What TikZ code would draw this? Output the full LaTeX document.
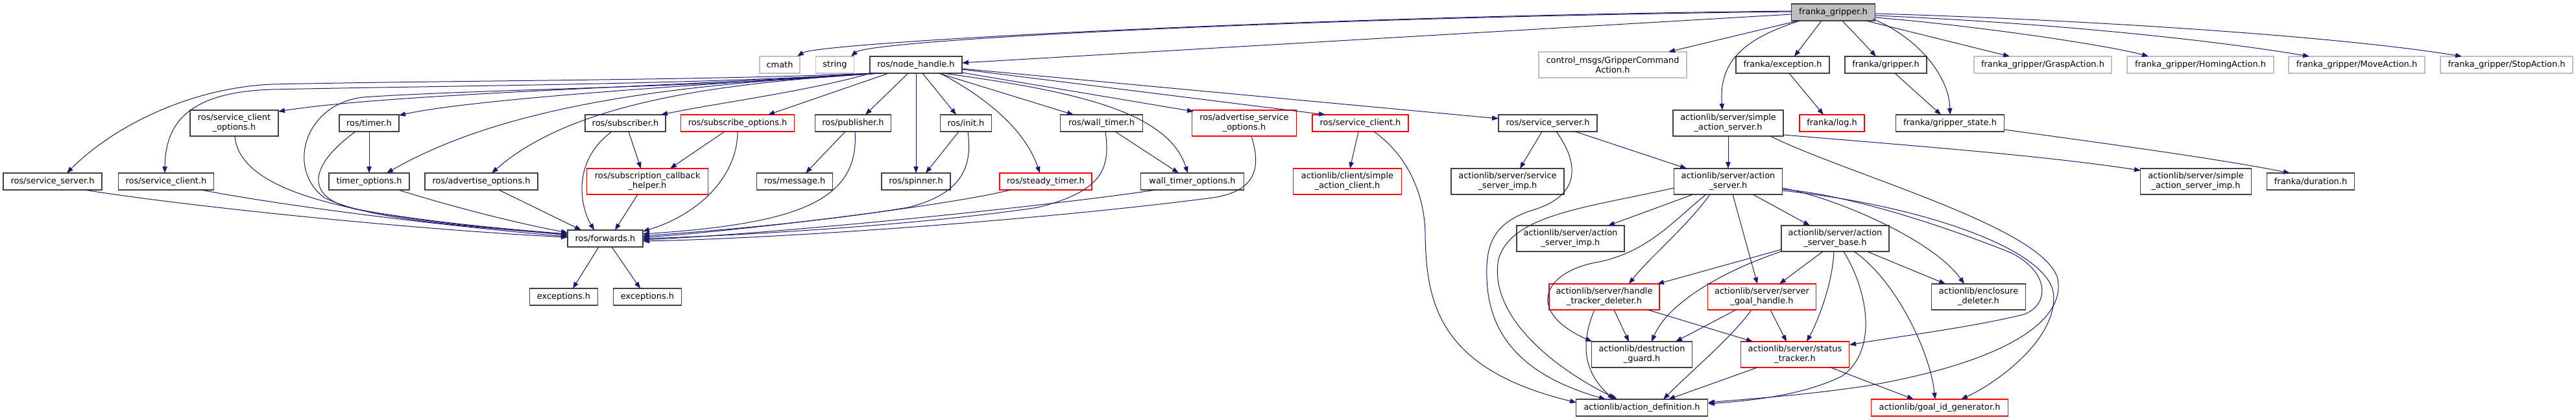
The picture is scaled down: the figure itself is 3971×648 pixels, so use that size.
\documentclass[tikz,border=0pt]{standalone}
\usepackage{fontspec}
\setmainfont{DejaVu Sans}
\usetikzlibrary{arrows.meta,calc}
\definecolor{edgec}{HTML}{191970}
\definecolor{nodeb}{HTML}{404040}
\definecolor{grayb}{HTML}{BFBFBF}
\definecolor{redb}{HTML}{FF0000}
\tikzset{
  box/.style={draw=nodeb, line width=1pt, fill=white, inner sep=0pt, align=center, font=\fontsize{9.7}{11.25}\selectfont},
  rbox/.style={box, draw=redb},
  gbox/.style={box, draw=grayb},
  wh/.style 2 args={minimum width={#1*0.75pt}, minimum height={#2*0.75pt}},
  lnk/.style={draw=edgec, line width=0.75pt, -{Triangle[length=7.5pt,width=5.5pt]}},
}
\begin{document}
\begin{tikzpicture}[x=0.75pt,y=-0.75pt]
\fill[white] (0,0) rectangle (3971,648);
\useasboundingbox (0,0) rectangle (3971,648);
% row 0
\node[box, wh={129}{26}, fill=grayb] (fg) at (2826,19) {franka\_gripper.h};
% row 1
\node[gbox, wh={62}{26}] (cmath) at (1202,100) {cmath};
\node[gbox, wh={59}{26}] (string) at (1287,100) {string};
\node[box, wh={142}{26}] (nh) at (1412,100) {ros/node\_handle.h};
\node[gbox, wh={228}{40}] (gca) at (2486,100) {control\_msgs/GripperCommand\\Action.h};
\node[box, wh={144}{26}] (fex) at (2748,100) {franka/exception.h};
\node[box, wh={126}{26}] (fgr) at (2907,100) {franka/gripper.h};
\node[gbox, wh={212}{26}] (grasp) at (3149,100) {franka\_gripper/GraspAction.h};
\node[gbox, wh={226}{26}] (homing) at (3392,100) {franka\_gripper/HomingAction.h};
\node[gbox, wh={210}{26}] (move) at (3633,100) {franka\_gripper/MoveAction.h};
\node[gbox, wh={204}{26}] (stop) at (3864,100) {franka\_gripper/StopAction.h};
% row 2
\node[box, wh={136}{40}] (sco) at (361,190) {ros/service\_client\\\_options.h};
\node[box, wh={92}{26}] (timer) at (569,190) {ros/timer.h};
\node[box, wh={124}{26}] (sub) at (964,190) {ros/subscriber.h};
\node[rbox, wh={175}{26}] (subo) at (1137,190) {ros/subscribe\_options.h};
\node[box, wh={117}{26}] (pub) at (1315,190) {ros/publisher.h};
\node[box, wh={79}{26}] (init) at (1489,190) {ros/init.h};
\node[box, wh={127}{26}] (wt) at (1698,190) {ros/wall\_timer.h};
\node[rbox, wh={161}{40}] (aso) at (1918,190) {ros/advertise\_service\\\_options.h};
\node[rbox, wh={148}{26}] (scR) at (2097,190) {ros/service\_client.h};
\node[box, wh={152}{26}] (ssR) at (2386,190) {ros/service\_server.h};
\node[box, wh={170}{40}] (sas) at (2664,190) {actionlib/server/simple\\\_action\_server.h};
\node[rbox, wh={100}{26}] (flog) at (2824,190) {franka/log.h};
\node[box, wh={167}{26}] (fgs) at (3006,190) {franka/gripper\_state.h};
% row 3
\node[box, wh={152}{26}] (ssL) at (81,280) {ros/service\_server.h};
\node[box, wh={147}{26}] (scL) at (256,280) {ros/service\_client.h};
\node[box, wh={124}{26}] (tio) at (569,280) {timer\_options.h};
\node[box, wh={174}{26}] (ado) at (742,280) {ros/advertise\_options.h};
\node[rbox, wh={187}{40}] (sch) at (998,280) {ros/subscription\_callback\\\_helper.h};
\node[box, wh={117}{26}] (msg) at (1225,280) {ros/message.h};
\node[box, wh={106}{26}] (spin) at (1412,280) {ros/spinner.h};
\node[rbox, wh={142}{26}] (st) at (1612,280) {ros/steady\_timer.h};
\node[box, wh={159}{26}] (wto) at (1838,280) {wall\_timer\_options.h};
\node[rbox, wh={167}{40}] (sac) at (2077,280) {actionlib/client/simple\\\_action\_client.h};
\node[box, wh={174}{40}] (ssi) at (2324,280) {actionlib/server/service\\\_server\_imp.h};
\node[box, wh={167}{40}] (as) at (2664,280) {actionlib/server/action\\\_server.h};
\node[box, wh={171}{40}] (sasi) at (3385,280) {actionlib/server/simple\\\_action\_server\_imp.h};
\node[box, wh={135}{26}] (fdur) at (3562,280) {franka/duration.h};
% row 4
\node[box, wh={116}{26}] (fwd) at (933,368) {ros/forwards.h};
\node[box, wh={166}{40}] (asi) at (2421,368) {actionlib/server/action\\\_server\_imp.h};
\node[box, wh={166}{40}] (asb) at (2829,368) {actionlib/server/action\\\_server\_base.h};
% row 5
\node[box, wh={105}{26}] (ex1) at (869,458) {exceptions.h};
\node[box, wh={105}{26}] (ex2) at (998,458) {exceptions.h};
\node[rbox, wh={170}{40}] (htd) at (2473,458) {actionlib/server/handle\\\_tracker\_deleter.h};
\node[rbox, wh={167}{40}] (sgh) at (2716,458) {actionlib/server/server\\\_goal\_handle.h};
\node[box, wh={145}{40}] (ed) at (3050,458) {actionlib/enclosure\\\_deleter.h};
% row 6
\node[box, wh={155}{40}] (dg) at (2531,547) {actionlib/destruction\\\_guard.h};
\node[rbox, wh={167}{40}] (stt) at (2767,547) {actionlib/server/status\\\_tracker.h};
% row 7
\node[box, wh={203}{26}] (ad) at (2531,629) {actionlib/action\_definition.h};
\node[rbox, wh={211}{26}] (gid) at (2990,629) {actionlib/goal\_id\_generator.h};

% ---- edges from franka_gripper.h
\draw[lnk] ($(fg)+(-64,-2)$) .. controls (2000,25) and (1260,66) .. ($(cmath)+(27,-13)$);
\draw[lnk] ($(fg)+(-64,-1)$) .. controls (2000,27) and (1340,62) .. ($(string)+(25,-13)$);
\draw[lnk] ($(fg)+(-64,3)$) -- ($(nh)+(71,-3)$);
\draw[lnk] ($(fg)+(-54,13)$) -- ($(gca)+(86,-20)$);
\draw[lnk] ($(fg)+(-51,13)$) .. controls (2680,62) and (2650,100) .. ($(sas)+(-9,-20)$);
\draw[lnk] ($(fg)+(-18,13)$) -- ($(fex)+(18,-13)$);
\draw[lnk] ($(fg)+(14,13)$) -- ($(fgr)+(-15,-13)$);
\draw[lnk] ($(fg)+(61,10)$) .. controls (2960,60) and (3005,120) .. ($(fgs)+(0,-13)$);
\draw[lnk] ($(fg)+(50,13)$) -- ($(grasp)+(-51,-13)$);
\draw[lnk] ($(fg)+(65,8)$) .. controls (3050,40) and (3250,70) .. ($(homing)+(-80,-13)$);
\draw[lnk] ($(fg)+(65,5)$) .. controls (3150,35) and (3400,60) .. ($(move)+(-73,-13)$);
\draw[lnk] ($(fg)+(65,2)$) .. controls (3200,30) and (3600,55) .. ($(stop)+(-69,-13)$);

% ---- edges from ros/node_handle.h
\draw[lnk] ($(nh)+(-69,13)$) .. controls (1100,124) and (700,124) .. (420,130) .. controls (300,135) and (180,190) .. ($(ssL)+(22,-13)$);
\draw[lnk] ($(nh)+(-66,13)$) .. controls (1100,130) and (700,132) .. (420,138) .. controls (290,142) and (255,190) .. ($(scL)+(-2,-13)$);
\draw[lnk] ($(nh)+(-63,13)$) .. controls (1100,135) and (750,137) .. (560,150) .. controls (470,160) and (440,260) .. (500,305) .. controls (580,345) and (780,352) .. ($(fwd)+(-58,-5)$);
\draw[lnk] ($(nh)+(-60,13)$) .. controls (1000,135) and (600,145) .. ($(sco)+(68,-18)$);
\draw[lnk] ($(nh)+(-58,13)$) .. controls (1000,135) and (720,155) .. ($(timer)+(46,-12)$);
\draw[lnk] ($(nh)+(-55,13)$) .. controls (1100,128) and (800,150) .. ($(tio)+(27,-13)$);
\draw[lnk] ($(nh)+(-52,13)$) .. controls (1100,128) and (880,160) .. ($(ado)+(16,-13)$);
\draw[lnk] ($(nh)+(-70,13)$) .. controls (1250,140) and (1100,160) .. ($(sub)+(55,-13)$);
\draw[lnk] ($(nh)+(-42,13)$) -- ($(subo)+(47,-13)$);
\draw[lnk] ($(nh)+(-12,13)$) -- ($(pub)+(19,-13)$);
\draw[lnk] ($(nh)+(0,13)$) -- ($(spin)+(0,-13)$);
\draw[lnk] ($(nh)+(10,13)$) -- ($(init)+(-15,-13)$);
\draw[lnk] ($(nh)+(37,13)$) .. controls (1520,150) and (1580,200) .. ($(st)+(-9,-13)$);
\draw[lnk] ($(nh)+(35,13)$) -- ($(wt)+(-43,-13)$);
\draw[lnk] ($(nh)+(42,13)$) .. controls (1650,140) and (1800,170) .. ($(wto)+(-7,-13)$);
\draw[lnk] ($(nh)+(71,12)$) -- ($(aso)+(-78,-18)$);
\draw[lnk] ($(nh)+(71,7)$) -- ($(scR)+(-54,-13)$);
\draw[lnk] ($(nh)+(71,6)$) -- ($(ssR)+(-76,-7)$);

% ---- edges into ros/forwards.h
\draw[lnk] ($(ssL)+(49,13)$) .. controls (300,320) and (650,355) .. ($(fwd)+(-58,-2)$);
\draw[lnk] ($(scL)+(54,13)$) .. controls (450,320) and (700,350) .. ($(fwd)+(-58,-3)$);
\draw[lnk] ($(sco)+(1,20)$) .. controls (370,310) and (600,340) .. ($(fwd)+(-58,-6)$);
\draw[lnk] ($(timer)+(-21,13)$) .. controls (470,260) and (470,310) .. (560,325) .. controls (680,345) and (800,355) .. ($(fwd)+(-58,-7)$);
\draw[lnk] ($(tio)+(45,13)$) .. controls (700,320) and (800,345) .. ($(fwd)+(-58,-9)$);
\draw[lnk] ($(ado)+(27,13)$) -- ($(fwd)+(-37,-13)$);
\draw[lnk] ($(sub)+(-21,13)$) .. controls (880,250) and (895,320) .. ($(fwd)+(-17,-13)$);
\draw[lnk] ($(sch)+(-15,20)$) -- ($(fwd)+(15,-13)$);
\draw[lnk] ($(subo)+(0,13)$) .. controls (1137,270) and (1080,330) .. ($(fwd)+(58,-11)$);
\draw[lnk] ($(pub)+(3,13)$) .. controls (1325,310) and (1230,345) .. ($(fwd)+(58,-7)$);
\draw[lnk] ($(init)+(3,13)$) .. controls (1500,260) and (1480,300) .. (1400,320) .. controls (1250,345) and (1050,360) .. ($(fwd)+(58,-4)$);
\draw[lnk] ($(st)+(-54,13)$) .. controls (1450,320) and (1100,360) .. ($(fwd)+(58,-2)$);
\draw[lnk] ($(wt)+(6,13)$) .. controls (1712,260) and (1700,295) .. (1600,320) .. controls (1400,350) and (1100,365) .. ($(fwd)+(58,0)$);
\draw[lnk] ($(wto)+(-56,13)$) .. controls (1600,320) and (1200,360) .. ($(fwd)+(58,2)$);
\draw[lnk] ($(aso)+(11,20)$) .. controls (1945,260) and (1935,295) .. (1870,305) .. controls (1600,340) and (1200,368) .. ($(fwd)+(58,4)$);

% ---- other ros edges
\draw[lnk] ($(timer)+(0,13)$) -- ($(tio)+(0,-13)$);
\draw[lnk] ($(sub)+(5,13)$) -- ($(sch)+(-10,-20)$);
\draw[lnk] ($(subo)+(-20,13)$) -- ($(sch)+(35,-20)$);
\draw[lnk] ($(pub)+(-12,13)$) -- ($(msg)+(17,-13)$);
\draw[lnk] ($(init)+(-11,13)$) -- ($(spin)+(15,-13)$);
\draw[lnk] ($(wt)+(21,13)$) -- ($(wto)+(-21,-13)$);
\draw[lnk] ($(scR)+(-3,13)$) -- ($(sac)+(4,-20)$);
\draw[lnk] ($(scR)+(21,13)$) .. controls (2170,240) and (2196,300) .. (2197,360) .. controls (2198,470) and (2220,570) .. ($(ad)+(-101,-8)$);
\draw[lnk] ($(ssR)+(-9,13)$) -- ($(ssi)+(19,-20)$);
\draw[lnk] ($(ssR)+(42,13)$) -- ($(as)+(-64,-20)$);
\draw[lnk] ($(ssR)+(13,13)$) .. controls (2440,260) and (2430,305) .. (2360,325) .. controls (2300,345) and (2290,380) .. (2292,430) .. controls (2295,520) and (2350,580) .. ($(ad)+(-56,-13)$);
\draw[lnk] ($(fwd)+(-10,13)$) -- ($(ex1)+(14,-13)$);
\draw[lnk] ($(fwd)+(10,13)$) -- ($(ex2)+(-11,-13)$);

% ---- simple action server
\draw[lnk] ($(sas)+(0,20)$) -- ($(as)+(0,-20)$);
\draw[lnk] ($(sas)+(85,18)$) .. controls (2950,225) and (3150,240) .. ($(sasi)+(-85,-17)$);
\draw[lnk] ($(sas)+(65,20)$) .. controls (2850,270) and (3150,350) .. (3172,430) .. controls (3185,500) and (3080,560) .. (2880,595) .. controls (2780,610) and (2700,615) .. ($(ad)+(102,-8)$);

% ---- action server
\draw[lnk] ($(as)+(-54,20)$) -- ($(asi)+(58,-20)$);
\draw[lnk] ($(as)+(-34,20)$) .. controls (2580,340) and (2540,390) .. (2460,405) .. controls (2380,420) and (2350,480) .. ($(dg)+(-77,-20)$);
\draw[lnk] ($(as)+(-28,20)$) .. controls (2600,350) and (2540,400) .. ($(htd)+(38,-20)$);
\draw[lnk] ($(as)+(7,20)$) -- ($(sgh)+(-7,-20)$);
\draw[lnk] ($(as)+(38,20)$) -- ($(asb)+(-39,-20)$);
\draw[lnk] ($(as)+(83,10)$) .. controls (2830,305) and (2980,370) .. ($(ed)+(-22,-20)$);
\draw[lnk] ($(as)+(83,12)$) .. controls (2850,300) and (3000,350) .. (3100,390) .. controls (3160,420) and (3160,470) .. (3120,485) .. controls (3040,505) and (2920,520) .. ($(stt)+(84,-15)$);
\draw[lnk] ($(as)+(83,14)$) .. controls (2950,315) and (3150,380) .. (3165,450) .. controls (3175,520) and (3080,590) .. ($(gid)+(33,-13)$);
\draw[lnk] ($(as)+(-84,10)$) .. controls (2450,320) and (2330,330) .. (2310,400) .. controls (2295,480) and (2380,560) .. ($(ad)+(-38,-13)$);

% ---- action server base
\draw[lnk] ($(asb)+(-83,17)$) -- ($(htd)+(82,-20)$);
\draw[lnk] ($(asb)+(-83,20)$) .. controls (2650,420) and (2570,470) .. ($(dg)+(15,-20)$);
\draw[lnk] ($(asb)+(-19,20)$) -- ($(sgh)+(27,-20)$);
\draw[lnk] ($(asb)+(-2,20)$) .. controls (2825,440) and (2800,500) .. ($(stt)+(18,-20)$);
\draw[lnk] ($(asb)+(13,20)$) .. controls (2880,450) and (2895,540) .. (2840,580) .. controls (2780,610) and (2700,618) .. ($(ad)+(102,-6)$);
\draw[lnk] ($(asb)+(29,20)$) .. controls (2920,430) and (2975,540) .. ($(gid)+(-7,-13)$);
\draw[lnk] ($(asb)+(49,20)$) -- ($(ed)+(-51,-20)$);

% ---- lower actionlib
\draw[lnk] ($(htd)+(15,20)$) -- ($(dg)+(-20,-20)$);
\draw[lnk] ($(htd)+(67,20)$) -- ($(stt)+(-65,-20)$);
\draw[lnk] ($(htd)+(-15,20)$) .. controls (2440,520) and (2435,570) .. ($(ad)+(-43,-13)$);
\draw[lnk] ($(sgh)+(-40,20)$) -- ($(dg)+(52,-20)$);
\draw[lnk] ($(sgh)+(13,20)$) -- ($(stt)+(-13,-20)$);
\draw[lnk] ($(sgh)+(-16,20)$) .. controls (2670,520) and (2610,570) .. ($(ad)+(33,-13)$);
\draw[lnk] ($(stt)+(-58,20)$) -- ($(ad)+(41,-13)$);
\draw[lnk] ($(stt)+(55,20)$) -- ($(gid)+(-40,-13)$);

% ---- franka
\draw[lnk] ($(fex)+(10,13)$) -- ($(flog)+(-13,-13)$);
\draw[lnk] ($(fgr)+(14,13)$) -- ($(fgs)+(-14,-13)$);
\draw[lnk] ($(fgs)+(84,10)$) .. controls (3250,222) and (3420,245) .. ($(fdur)+(-32,-13)$);
\end{tikzpicture}
\end{document}
